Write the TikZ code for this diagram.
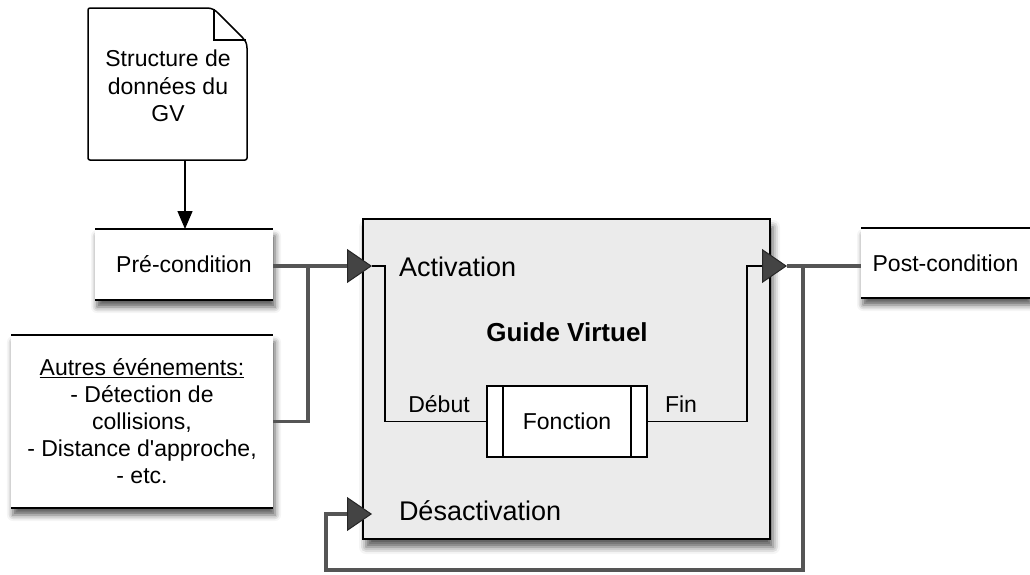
\documentclass[tikz,border=0pt]{standalone}
\usepackage{fontspec}
\setmainfont{Liberation Sans}
\usetikzlibrary{arrows.meta,shadows.blur}
\definecolor{boxgray}{HTML}{EBEBEB}
\definecolor{wirec}{HTML}{555555}
\definecolor{portc}{HTML}{444444}
\begin{document}
\begin{tikzpicture}[x=1pt,y=-1pt,
  every node/.style={font=\fontsize{23}{27.5}\selectfont, inner sep=0pt, outer sep=0pt},
  bigtxt/.style={font=\fontsize{27}{32}\selectfont},
  sbox/.style={fill=white, blur shadow={shadow xshift=2pt, shadow yshift=-7pt, shadow blur radius=6pt, shadow opacity=65}},
  mainbox/.style={draw=black, line width=1.5pt, fill=boxgray, minimum width=407pt, minimum height=320pt,
     blur shadow={shadow xshift=3pt, shadow yshift=-8pt, shadow blur radius=7pt, shadow opacity=65}},
  foncbox/.style={draw=black, line width=1.3pt, fill=white, minimum width=160pt, minimum height=71pt},
  edgeline/.style={line width=2pt, draw=black},
  wire/.style={draw=wirec, line width=3.5pt, line join=miter},
  thinwire/.style={draw=black, line width=1.3pt},
  porttip/.style={-{Triangle[length=25pt,width=34pt,fill=portc,color=black!85,line width=1pt]}},
  doctip/.style={-{Triangle[length=18pt,width=15pt,fill=black]}}
]
\useasboundingbox (0,0) rectangle (1030,574);

% document shape
\filldraw[line width=1.5pt, fill=white, rounded corners=2pt] (88,8) -- (205,8) .. controls (212,8) and (215,10) .. (220,15) -- (241,36) .. controls (245,40) and (247,43) .. (247,50) -- (247,160) -- (88,160) -- cycle;
\draw[line width=1.3pt] (214,9) -- (214,40) -- (246,40);
\node[align=center] (doc) at (168,86) {Structure de\\données du\\GV};
\coordinate (docb) at (185,160);

% main box
\node[mainbox] (gv) at (566.5,379) {};
\node[bigtxt, anchor=base west] (act) at (399,276) {Activation};
\node[bigtxt, anchor=base west] (desact) at (399,520) {Désactivation};
\node[font=\fontsize{26}{31}\selectfont\bfseries, anchor=base] (title) at (567,341) {Guide Virtuel};
\node[foncbox] (fonc) at (567,421.5) {Fonction};
\draw[line width=1.3pt] ([xshift=16pt]fonc.north west) -- ([xshift=16pt]fonc.south west);
\draw[line width=1.3pt] ([xshift=-16pt]fonc.north east) -- ([xshift=-16pt]fonc.south east);
\node[anchor=base] (debut) at (439,412) {Début};
\node[anchor=base] (fin) at (681,412) {Fin};

% ports
\coordinate (ain) at (372,266);
\coordinate (dein) at (372,514);
\coordinate (aout) at (787,266);
\coordinate (j1) at (308,266);
\coordinate (j2) at (803,266);

% side boxes
\node[sbox, minimum width=178pt, minimum height=71pt] (pre) at (184,264.5) {Pré-condition};
\draw[edgeline] (pre.north west) -- (pre.north east);
\draw[edgeline] (pre.south west) -- (pre.south east);

\node[sbox, minimum width=262pt, minimum height=173pt, align=center, font=\fontsize{23}{27}\selectfont] (aut) at (142,421.5)
  {\underline{Autres événements:}\\- Détection de\\collisions,\\- Distance d\textquotesingle approche,\\- etc.};
\draw[edgeline] (aut.north west) -- (aut.north east);
\draw[edgeline] (aut.south west) -- (aut.south east);

\node[sbox, minimum width=169pt, minimum height=70pt] (post) at (945.5,263) {Post-condition};
\draw[edgeline] (post.north west) -- (post.north east);
\draw[edgeline] (post.south west) -- (post.south east);

% connectors
\draw[line width=1.3pt, doctip] (docb) -- (docb |- pre.north);
\draw[wire, porttip] (pre.east |- ain) -- (ain);
\draw[wire] (aut.east) -| (j1);
\draw[thinwire] (ain) -- (385,266) |- (fonc.west);
\draw[thinwire, porttip] (fonc.east) -- (747,421.5) |- (aout);
\draw[wire] (aout) -- (aout -| post.west);
\draw[wire, porttip] (j2) -- (803,570) -- (326,570) |- (dein);
\end{tikzpicture}
\end{document}
